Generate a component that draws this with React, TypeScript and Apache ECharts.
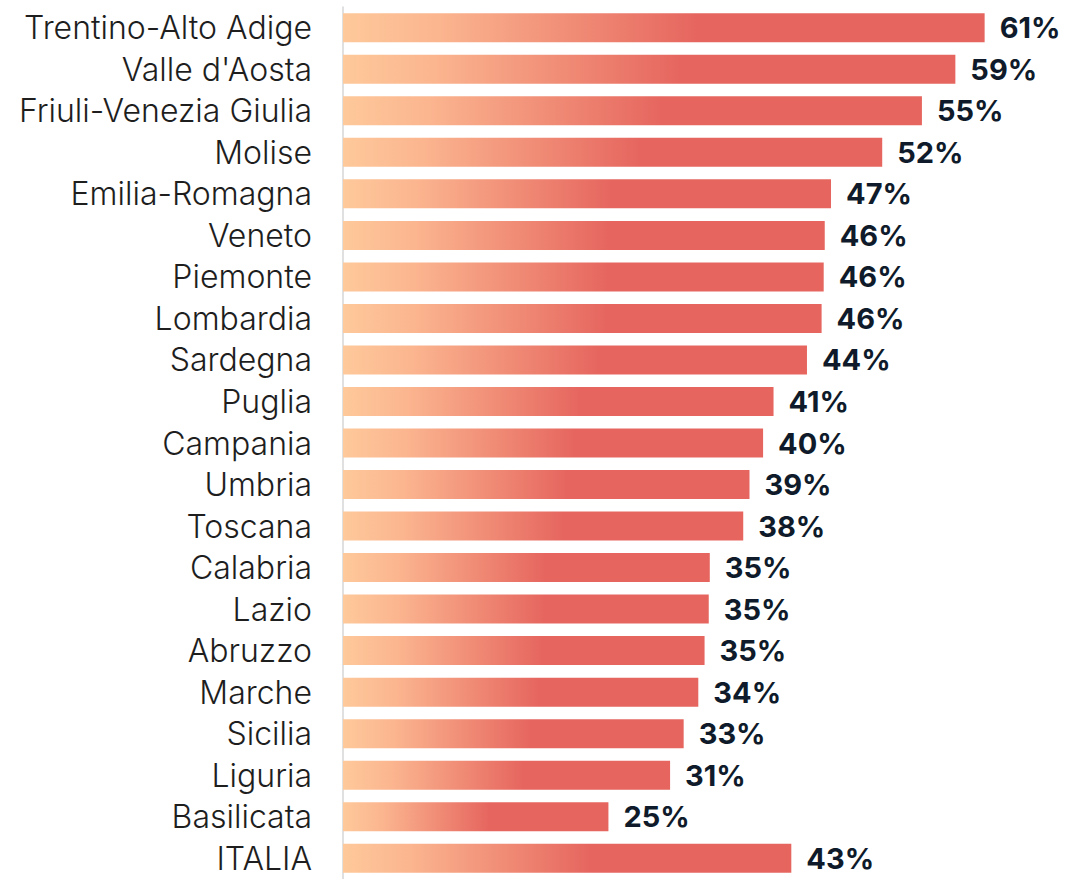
import React, { useEffect, useRef } from "react";
import * as echarts from "echarts";

const categories = [
  "Trentino-Alto Adige",
  "Valle d'Aosta",
  "Friuli-Venezia Giulia",
  "Molise",
  "Emilia-Romagna",
  "Veneto",
  "Piemonte",
  "Lombardia",
  "Sardegna",
  "Puglia",
  "Campania",
  "Umbria",
  "Toscana",
  "Calabria",
  "Lazio",
  "Abruzzo",
  "Marche",
  "Sicilia",
  "Liguria",
  "Basilicata",
  "ITALIA",
];

const values = [
  61.4, 58.6, 55.4, 51.6, 46.7, 46.1, 46.0, 45.8, 44.4, 41.2, 40.2, 38.9, 38.3,
  35.1, 35.0, 34.6, 34.0, 32.6, 31.3, 25.4, 42.9,
];

export default function App() {
  const ref = useRef<HTMLDivElement>(null);
  useEffect(() => {
    if (!ref.current) return;
    const chart = echarts.init(ref.current, undefined, { renderer: "svg" });
    chart.setOption({
      animation: false,
      grid: { left: 343, top: 7, height: 876, width: 679.25 },
      xAxis: {
        type: "value",
        min: 0,
        max: 65,
        show: false,
      },
      yAxis: {
        type: "category",
        data: categories,
        inverse: true,
        axisLine: { show: true, lineStyle: { color: "#d6d6d6", width: 1.5 } },
        axisTick: { show: false },
        axisLabel: {
          interval: 0,
          margin: 31,
          fontFamily: "Inter",
          fontWeight: 300,
          fontSize: 32,
          color: "#1e1e1e",
          padding: [6, 0, 0, 0],
        },
      },
      series: [
        {
          type: "bar",
          data: values,
          barWidth: 29,
          itemStyle: {
            color: new echarts.graphic.LinearGradient(0, 0, 1, 0, [
              { offset: 0, color: "#fec99b" },
              { offset: 0.15, color: "#fbb58f" },
              { offset: 0.55, color: "#e6665f" },
              { offset: 1, color: "#e6665f" },
            ]),
          },
          label: {
            show: true,
            position: "right",
            distance: 15,
            formatter: (p: any) => Math.round(p.value) + "%",
            fontFamily: "Inter",
            fontWeight: 700,
            fontSize: 29,
            color: "#0f1b2a",
            padding: [6, 0, 0, 0],
          },
        },
      ],
    });
    return () => chart.dispose();
  }, []);
  return (
    <div
      ref={ref}
      style={{ position: "absolute", left: 0, top: 0, width: 1066, height: 879 }}
    />
  );
}
